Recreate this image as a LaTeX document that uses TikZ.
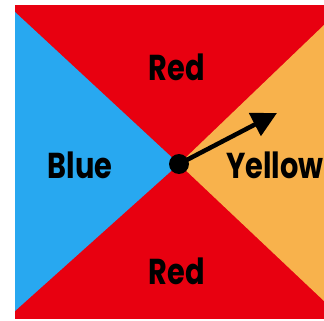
\documentclass[tikz,border=0pt]{standalone}
\usepackage{fontspec}
\setmainfont{Poppins}
\usetikzlibrary{arrows.meta}
\definecolor{cred}{RGB}{232,0,16}
\definecolor{cblue}{RGB}{40,168,240}
\definecolor{cyellow}{RGB}{248,178,76}
\tikzset{
  lbl/.style={font=\bfseries\fontsize{36}{36}\selectfont, text=black, inner sep=0pt, xscale=0.8},
}
\begin{document}
\begin{tikzpicture}[x=1pt,y=-1pt]
\useasboundingbox (0,0) rectangle (324,321);
\fill[white] (0,0) rectangle (324,321);
\fill[cred] (15,5) rectangle (324,319);
\coordinate (c) at (179,164);
\fill[cblue] (15,12) -- (c) -- (15,311) -- cycle;
\fill[cyellow] (324,25) -- (c) -- (324,301) -- cycle;
\node[lbl] (rtop) at (177,67) {Red};
\node[lbl] (rbot) at (177,271) {Red};
\node[lbl] (blue) at (80,165) {Blue};
\node[lbl, anchor=west] (yel) at (226,165) {Yellow};
\node[circle, fill=black, minimum size=20pt, inner sep=0pt] (dot) at (c) {};
\coordinate (tip) at (277,113);
\draw[line width=4.5pt, -{Triangle[length=25pt,width=25pt]}] (dot.center) -- (tip);
\end{tikzpicture}
\end{document}
